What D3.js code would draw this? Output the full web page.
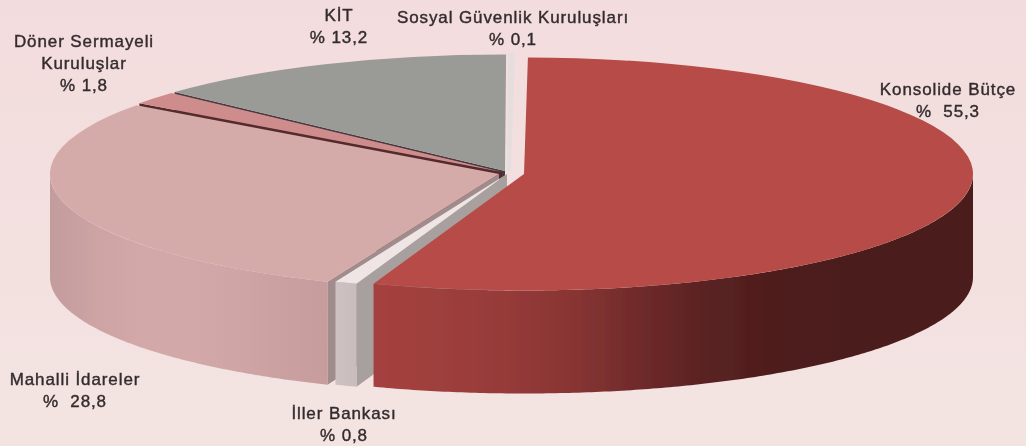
<!DOCTYPE html>
<html lang="tr">
<head>
<meta charset="utf-8">
<script src="https://cdn.jsdelivr.net/npm/d3@7"></script>
<style>
  html, body { margin: 0; padding: 0; background: #f3e1e1; overflow: hidden; }
  text {
    font-family: "Liberation Sans", Arial, sans-serif;
    font-size: 17px;
    letter-spacing: 0.9px;
    fill: #332c2e;
    stroke: #332c2e;
    stroke-width: 0.4;
    text-anchor: middle;
  }
</style>
</head>
<body>
<div id="container"></div>
<script>
const categories = ['Konsolide Bütçe', 'İller Bankası', 'Mahalli İdareler', 'Döner Sermayeli Kuruluşlar', 'KİT', 'Sosyal Güvenlik Kuruluşları'];
const shares = [55.3, 0.8, 28.8, 1.8, 13.2, 0.1];
const labelRows = [['Konsolide Bütçe'], ['İller Bankası'], ['Mahalli İdareler'], ['Döner Sermayeli', 'Kuruluşlar'], ['KİT'], ['Sosyal Güvenlik Kuruluşları']];
const percentPrefix = ['%  ', '% ', '%  ', '% ', '% ', '% '];

const topColors = ['#b64c47', '#efe5e5', '#d5abaa', '#cf8c8c', '#9a9a97', '#e6dede'];
const cutColors = ['#7c2c2a', '#a8a09f', '#a08c8c', '#562a2b', '#463a40', '#ddd3d3'];
const wallColors = [
  ['#a5413f', '#9e3f3c', '#963a39', '#883533', '#6f2a2a', '#5a2222', '#4f1d1d', '#4c1c1c', '#4c1c1c', '#4b1c1c'],
  ['#cdc1c1', '#c8bcbc'],
  ['#c39c9d', '#cda3a4', '#d2a8a8', '#d2a8a8', '#cfa5a5', '#caa1a0', '#c69d9c']
];

const width = 1026;
const height = 446;
const radiusX = 449;
const radiusY = 116.5;
const depth = 103;

// where each slice sits after being pulled out of the pie
const centers = [[524, 174], [507, 174], [499, 174], [502, 172], [505, 171], [509, 171]];
// text anchor for the first line of each label
const labelSpots = [[948, 95], [344, 419], [75, 385], [84, 47], [339, 21], [513, 23]];
const lineStep = 22;

const svg = d3.select('#container').append('svg')
  .attr('width', width)
  .attr('height', height)
  .attr('viewBox', [0, 0, width, height])
  .style('display', 'block');

const defs = svg.append('defs');

const background = defs.append('linearGradient')
  .attr('id', 'background')
  .attr('x1', 0).attr('x2', 0).attr('y1', 0).attr('y2', 1);
background.append('stop').attr('offset', 0).attr('stop-color', '#f3dcdd');
background.append('stop').attr('offset', 1).attr('stop-color', '#f3e4e2');

const soft = defs.append('filter').attr('id', 'soft');
soft.append('feGaussianBlur').attr('stdDeviation', 0.7);

const softText = defs.append('filter').attr('id', 'softText');
softText.append('feGaussianBlur').attr('stdDeviation', 0.4);

svg.append('rect')
  .attr('width', width)
  .attr('height', height)
  .attr('fill', 'url(#background)');

const pie = d3.pie()
  .sort(null)
  .startAngle(Math.PI / 360)
  .endAngle(2 * Math.PI + Math.PI / 360);

const slices = pie(shares).map((d, i) => ({...d, center: centers[i]}));

const arc = d3.arc()
  .innerRadius(0)
  .outerRadius(radiusX);

const rimX = (d, a) => d.center[0] + radiusX * Math.sin(a);
const rimY = (d, a) => d.center[1] - radiusY * Math.cos(a);

const line = d3.line();

function wallPath(d) {
  const a0 = Math.max(d.startAngle, Math.PI / 2);
  const a1 = Math.min(d.endAngle, 3 * Math.PI / 2);
  if (a0 >= a1) return null;
  const angles = d3.range(a0, a1, 0.01).concat(a1);
  const top = angles.map(a => [rimX(d, a), rimY(d, a)]);
  const bottom = angles.map(a => [rimX(d, a), rimY(d, a) + depth]).reverse();
  return line(top.concat(bottom)) + 'Z';
}

function cutPath(d, a) {
  const [cx, cy] = d.center;
  const x = rimX(d, a);
  const y = rimY(d, a);
  return line([[cx, cy], [x, y], [x, y + depth], [cx, cy + depth]]) + 'Z';
}

// side gradients run across the visible part of the rim
wallColors.forEach((colors, i) => {
  const d = slices[i];
  const a0 = Math.max(d.startAngle, Math.PI / 2);
  const a1 = Math.min(d.endAngle, 3 * Math.PI / 2);
  const xs = d3.extent(d3.range(a0, a1, 0.01).concat(a1), a => rimX(d, a));
  const grad = defs.append('linearGradient')
    .attr('id', `wall${i}`)
    .attr('gradientUnits', 'userSpaceOnUse')
    .attr('x1', xs[0]).attr('x2', xs[1]).attr('y1', 0).attr('y2', 0);
  const ordered = xs[0] === rimX(d, a1) ? colors : colors.slice().reverse();
  ordered.forEach((c, k) => {
    grad.append('stop').attr('offset', k / (ordered.length - 1)).attr('stop-color', c);
  });
});

const chart = svg.append('g').attr('filter', 'url(#soft)');

// painter's order: back slices first, the big red one last
const slice = chart.selectAll('g.slice')
  .data(slices.map((d, i) => ({...d, i})).reverse())
  .join('g')
  .attr('class', 'slice');

slice.append('path')
  .attr('d', d => Math.sin(d.startAngle) < 0 ? cutPath(d, d.startAngle) : null)
  .attr('fill', d => cutColors[d.i]);

slice.append('path')
  .attr('d', d => wallPath(d))
  .attr('fill', d => wallColors[d.i] ? `url(#wall${d.i})` : topColors[d.i]);

slice.append('path')
  .attr('transform', d => `translate(${d.center[0]},${d.center[1]}) scale(1,${radiusY / radiusX})`)
  .attr('d', arc)
  .attr('fill', d => topColors[d.i])
  .attr('stroke', d => d.i === 5 ? topColors[d.i] : 'none')
  .attr('stroke-width', d => d.i === 5 ? 4 : 0)
  .attr('vector-effect', 'non-scaling-stroke');

const label = svg.append('g')
  .attr('filter', 'url(#softText)')
  .selectAll('text')
  .data(categories)
  .join('text')
  .attr('x', (d, i) => labelSpots[i][0])
  .attr('y', (d, i) => labelSpots[i][1]);

label.selectAll('tspan')
  .data((d, i) => labelRows[i].concat(percentPrefix[i] + String(shares[i]).replace('.', ',')))
  .join('tspan')
  .attr('x', function() { return this.parentNode.getAttribute('x'); })
  .attr('dy', (d, k) => k === 0 ? 0 : lineStep)
  .style('white-space', 'pre')
  .text(d => d);
</script>
</body>
</html>
